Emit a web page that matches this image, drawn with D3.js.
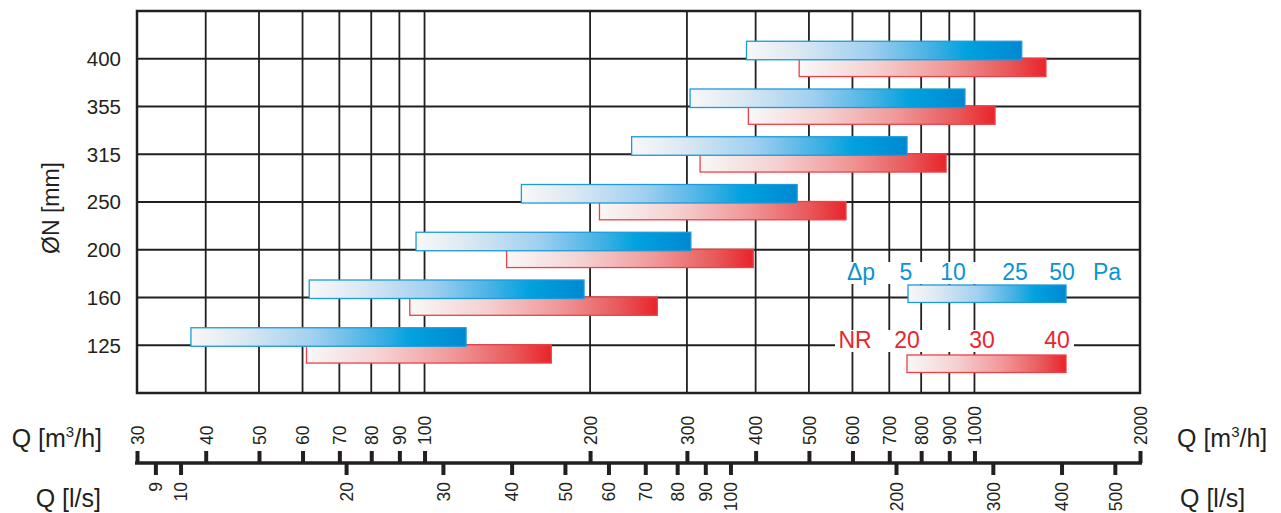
<!DOCTYPE html>
<html>
<head>
<meta charset="utf-8">
<script src="https://cdn.jsdelivr.net/npm/d3@7"></script>
<style>
  body { margin: 0; background: #fff; }
  svg text { font-family: "Liberation Sans", Arial, sans-serif; }
</style>
</head>
<body>
<div id="vis"></div>
<script>
// nominal duct diameters (mm)
const diameters = [125, 160, 200, 250, 315, 355, 400];
// flow range for pressure drop 5..50 Pa (m3/h)
const dpMin = [37.6, 61.7, 96.5, 150, 238, 304, 385];
const dpMax = [119, 195, 305, 476, 754, 961, 1219];
// flow range for noise rating NR 20..40 (m3/h)
const nrMin = [61, 94, 141, 208, 317, 388, 480];
const nrMax = [170, 265, 396, 584, 888, 1090, 1349];

// axis ticks
const m3hTicks = [30, 40, 50, 60, 70, 80, 90, 100, 200, 300, 400, 500, 600, 700, 800, 900, 1000, 2000];
const lsTicks = [9, 10, 20, 30, 40, 50, 60, 70, 80, 90, 100, 200, 300, 400, 500];

// legend labels
const dpLabels = [5, 10, 25, 50];
const nrLabels = [20, 30, 40];

const W = 1281, H = 513;
const ink = '#231f20';
const blue = '#0a93d6';
const red = '#e8262d';

const svg = d3.select('#vis').append('svg')
    .attr('width', W)
    .attr('height', H);

const x = d3.scaleLog().domain([30, 2000]).range([137, 1140]);
const y = d3.scalePoint().domain(diameters.slice().reverse()).range([11, 393]).padding(1);

// gradients
const defs = svg.append('defs');
function grad(id, stops) {
    const g = defs.append('linearGradient').attr('id', id)
        .attr('x1', '0%').attr('x2', '100%').attr('y1', '0%').attr('y2', '0%');
    stops.forEach(s => g.append('stop').attr('offset', s[0]).attr('stop-color', s[1]));
}
grad('gBlue', [[0, '#f8f8f8'], [0.18, '#dde9f3'], [0.45, '#9fcff0'], [0.68, '#3fb0e4'], [0.8, '#00a2df'], [1, '#0088d1']]);
grad('gRed', [[0, '#f8f8f8'], [0.3, '#f5d2d2'], [0.6, '#f09898'], [0.85, '#e8585a'], [1, '#e8242a']]);

// grid
const grid = svg.append('g');
grid.selectAll('line.v')
    .data(m3hTicks.filter(d => d > 30 && d < 2000))
    .enter().append('line')
    .attr('x1', d => x(d)).attr('x2', d => x(d))
    .attr('y1', 11).attr('y2', 393)
    .attr('stroke', ink).attr('stroke-width', 1.8);
grid.selectAll('line.h')
    .data(diameters)
    .enter().append('line')
    .attr('x1', 137).attr('x2', 1140)
    .attr('y1', d => y(d)).attr('y2', d => y(d))
    .attr('stroke', ink).attr('stroke-width', 1.8);
svg.append('rect')
    .attr('x', 137).attr('y', 11)
    .attr('width', 1140 - 137).attr('height', 393 - 11)
    .attr('fill', 'none').attr('stroke', ink).attr('stroke-width', 2.5);

// y labels
svg.append('g').selectAll('text')
    .data(diameters)
    .enter().append('text')
    .attr('x', 121).attr('y', d => y(d))
    .attr('dy', '0.36em')
    .attr('text-anchor', 'end')
    .attr('font-size', 20.5)
    .attr('fill', ink)
    .text(d => d);
svg.append('text')
    .attr('transform', 'translate(59,208) rotate(-90)')
    .attr('text-anchor', 'middle')
    .attr('font-size', 23)
    .attr('fill', ink)
    .text('ØN [mm]');

// bars
const idx = d3.range(diameters.length);
svg.append('g').selectAll('rect')
    .data(idx)
    .enter().append('rect')
    .attr('x', i => x(nrMin[i]))
    .attr('width', i => x(nrMax[i]) - x(nrMin[i]))
    .attr('y', i => y(diameters[i]) - 0.5)
    .attr('height', 18.3)
    .attr('fill', 'url(#gRed)')
    .attr('stroke', '#ef4048').attr('stroke-width', 1.3);
svg.append('g').selectAll('rect')
    .data(idx)
    .enter().append('rect')
    .attr('x', i => x(dpMin[i]))
    .attr('width', i => x(dpMax[i]) - x(dpMin[i]))
    .attr('y', i => y(diameters[i]) - 17.5)
    .attr('height', 18.5)
    .attr('fill', 'url(#gBlue)')
    .attr('stroke', '#1e9ad9').attr('stroke-width', 1.3);

// legend
const lg = svg.append('g');
const dpScale = d3.scaleLog().domain([5, 50]).range([906, 1062]);
const nrScale = d3.scaleLinear().domain([20, 40]).range([907, 1057]);

lg.append('rect').attr('x', 843).attr('y', 262).attr('width', 283).attr('height', 22).attr('fill', '#fff');
lg.append('rect').attr('x', 835).attr('y', 330).attr('width', 239).attr('height', 22).attr('fill', '#fff');

const row1 = lg.append('g').attr('fill', blue).attr('font-size', 23).attr('text-anchor', 'middle');
row1.append('text').attr('x', 861).attr('y', 280).text('Δp');
row1.selectAll('text.n').data(dpLabels).enter().append('text')
    .attr('x', d => dpScale(d)).attr('y', 280).text(d => d);
row1.append('text').attr('x', 1107).attr('y', 280).text('Pa');

const row2 = lg.append('g').attr('fill', red).attr('font-size', 23).attr('text-anchor', 'middle');
row2.append('text').attr('x', 855).attr('y', 348).text('NR');
row2.selectAll('text.n').data(nrLabels).enter().append('text')
    .attr('x', d => nrScale(d)).attr('y', 348).text(d => d);

lg.append('rect')
    .attr('x', dpScale(5) + 2).attr('y', 285)
    .attr('width', dpScale(50) - dpScale(5) + 2).attr('height', 17.5)
    .attr('fill', 'url(#gBlue)').attr('stroke', '#1e9ad9').attr('stroke-width', 1.3);
lg.append('rect')
    .attr('x', nrScale(20)).attr('y', 355)
    .attr('width', 1066 - nrScale(20)).attr('height', 17.5)
    .attr('fill', 'url(#gRed)').attr('stroke', '#ef4048').attr('stroke-width', 1.3);

// bottom double axis
const axisY = 463;
const axM3h = svg.append('g')
    .attr('transform', `translate(0,${axisY})`)
    .call(d3.axisTop(x).tickValues(m3hTicks).tickSize(12).tickFormat(d3.format('d')));
const axLs = svg.append('g')
    .attr('transform', `translate(0,${axisY})`)
    .call(d3.axisBottom(x).tickValues(lsTicks.map(d => d * 3.6)).tickSize(12)
        .tickFormat(d => Math.round(d / 3.6)));

[axM3h, axLs].forEach(g => {
    g.select('.domain').remove();
    g.selectAll('.tick line').attr('stroke', ink).attr('stroke-width', 4);
    g.selectAll('.tick text')
        .attr('font-size', 17.5)
        .attr('fill', ink)
        .attr('font-family', '"Liberation Sans", Arial, sans-serif');
});
axM3h.selectAll('.tick text')
    .attr('transform', 'rotate(-90)')
    .attr('x', 18).attr('y', 0).attr('dy', '0.36em')
    .attr('text-anchor', 'start');
axLs.selectAll('.tick text')
    .attr('transform', 'rotate(-90)')
    .attr('x', -19).attr('y', 0).attr('dy', '0.36em')
    .attr('text-anchor', 'end');

svg.append('line')
    .attr('x1', 135).attr('x2', 1142)
    .attr('y1', axisY).attr('y2', axisY)
    .attr('stroke', ink).attr('stroke-width', 3.5);

// axis titles
function m3hTitle(g, xPos, anchor) {
    const t = g.append('text')
        .attr('x', xPos).attr('y', 447)
        .attr('text-anchor', anchor)
        .attr('font-size', 25).attr('fill', ink);
    t.append('tspan').text('Q [m');
    t.append('tspan').attr('font-size', 15).attr('dy', -10).text('3');
    t.append('tspan').attr('dy', 10).text('/h]');
}
m3hTitle(svg, 102, 'end');
m3hTitle(svg, 1177, 'start');
svg.append('text').attr('x', 101).attr('y', 507).attr('text-anchor', 'end')
    .attr('font-size', 25).attr('fill', ink).text('Q [l/s]');
svg.append('text').attr('x', 1180).attr('y', 507).attr('text-anchor', 'start')
    .attr('font-size', 25).attr('fill', ink).text('Q [l/s]');
</script>
</body>
</html>
